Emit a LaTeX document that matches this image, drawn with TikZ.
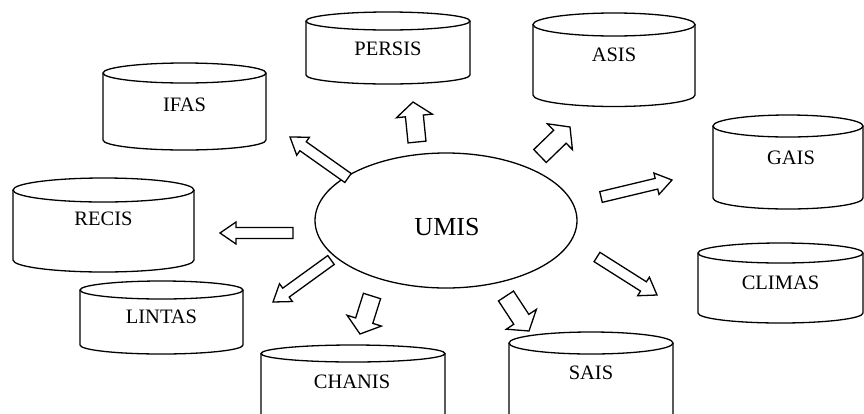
\documentclass[tikz,border=0pt]{standalone}
\usepackage{fontspec}
\setmainfont{Liberation Serif}
\usetikzlibrary{calc,shapes.geometric}
\tikzset{
  cylline/.style={line width=1.3pt, black},
  blk/.style={line width=1.3pt, black, fill=white, line join=miter},
  lbl/.style={inner sep=0pt, font=\fontsize{20.5}{24}\selectfont},
  bigl/.style={inner sep=0pt, font=\fontsize{26}{30}\selectfont},
  hub/.style={ellipse, draw, line width=1.3pt, minimum width=262pt, minimum height=135pt, inner sep=0pt}
}
\newcommand\barrow[5]{%
  \coordinate (#1h) at ($(#2)!#5!(#1)$);
  \draw[blk] ($(#1)!#3!90:(#2)$) -- ($(#1h)!#3!90:(#2)$) -- ($(#1h)!#4!90:(#2)$) -- (#2)
    -- ($(#1h)!#4!-90:(#2)$) -- ($(#1h)!#3!-90:(#2)$) -- ($(#1)!#3!-90:(#2)$) -- cycle;}
\newcommand\thinarr[2]{\barrow{#1}{#2}{5.5pt}{11pt}{16pt}}
\newcommand\fatarr[2]{\barrow{#1}{#2}{9pt}{18pt}{14pt}}
\newcommand\cyl[9]{%
  \pgfmathsetmacro\cyx{(#2+#3)/2}\pgfmathsetmacro\cyr{(#3-#2)/2}
  \draw[cylline] (\cyx,#4) ellipse[x radius=\cyr, y radius=#5];
  \draw[cylline] (#2,#4) -- (#2,#6) arc[start angle=180,end angle=0,x radius=\cyr,y radius=#5] -- (#3,#4);
  \node[lbl] (#1) at (#7,#8) {#9};}
\begin{document}
\begin{tikzpicture}[x=1pt,y=-1pt]
\clip (0,0) rectangle (864,413);
\fill[white] (0,0) rectangle (864,413);
% hub
\node[hub] (umis) at (446,220.5) {};
\node[bigl] (umislbl) at (447,227) {UMIS};
% cylinders: name, L, R, yc, ry, yb, tx, ty, text
\cyl{ifas}{103}{266}{73}{10}{140}{184.5}{105}{IFAS}
\cyl{persis}{306}{470}{21}{9}{75}{388}{49}{PERSIS}
\cyl{asis}{533}{695}{24.5}{11.5}{95}{614}{55}{ASIS}
\cyl{gais}{713}{863}{126}{11}{198}{791}{158}{GAIS}
\cyl{climas}{698}{863}{253}{10}{313}{780.5}{283}{CLIMAS}
\cyl{recis}{13}{194}{190}{12}{260}{103.5}{219}{RECIS}
\cyl{lintas}{80}{243}{290}{9}{345}{161.5}{317}{LINTAS}
\cyl{chanis}{261}{445}{353.5}{8.5}{430}{352}{382}{CHANIS}
\cyl{sais}{509}{673}{343}{11}{430}{591}{373}{SAIS}
% arrow end points
\coordinate (aIF) at (348,178); \coordinate (bIF) at (290,137);
\coordinate (aPE) at (417,142); \coordinate (bPE) at (413,102);
\coordinate (aAS) at (540,156); \coordinate (bAS) at (570,127);
\coordinate (aGA) at (601,197); \coordinate (bGA) at (672,180);
\coordinate (aCL) at (597,257); \coordinate (bCL) at (657,295);
\coordinate (aSA) at (506,296); \coordinate (bSA) at (529,331);
\coordinate (aCH) at (372,296); \coordinate (bCH) at (360,334);
\coordinate (aLI) at (331,260); \coordinate (bLI) at (273,302);
\coordinate (aRE) at (293,233); \coordinate (bRE) at (220,233);
\thinarr{aIF}{bIF}
\fatarr{aPE}{bPE}
\fatarr{aAS}{bAS}
\thinarr{aGA}{bGA}
\thinarr{aCL}{bCL}
\fatarr{aSA}{bSA}
\fatarr{aCH}{bCH}
\thinarr{aLI}{bLI}
\thinarr{aRE}{bRE}
\end{tikzpicture}
\end{document}
